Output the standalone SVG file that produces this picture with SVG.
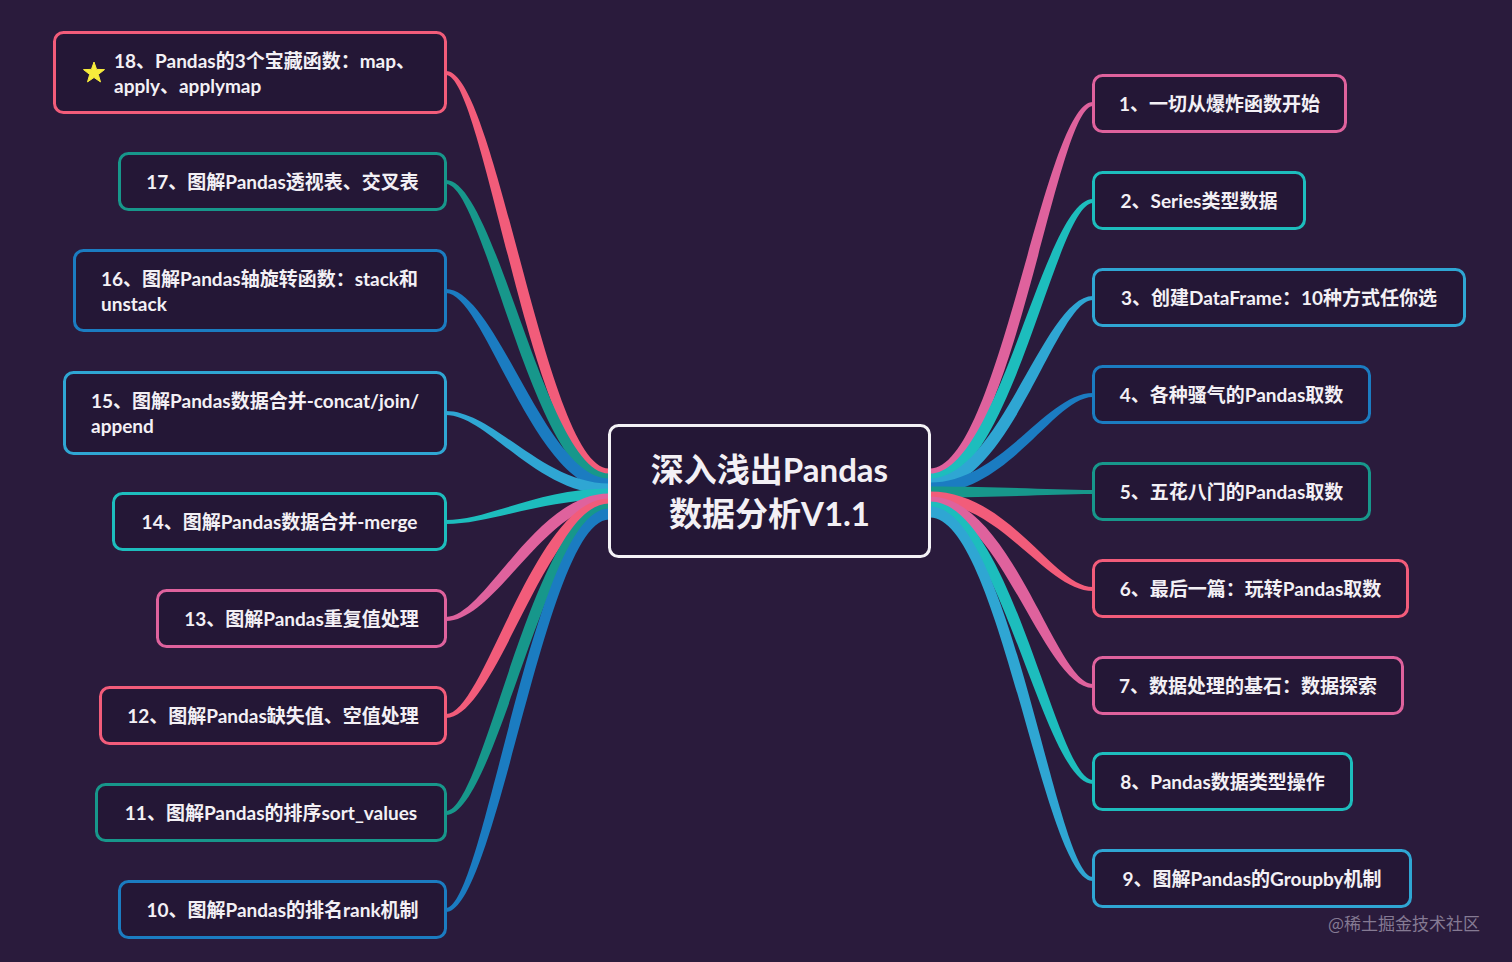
<svg xmlns="http://www.w3.org/2000/svg" width="1512" height="962" viewBox="0 0 1512 962">
<style>
.t{font-family:Lato,"Noto Sans CJK SC",sans-serif;font-weight:700;font-size:19px;fill:#f3f0f5}
.tm{text-anchor:middle}
.box{fill:#241736;stroke-width:3}
.coral{fill:#f25c7a}.teal{fill:#17978b}.blue{fill:#1b7cc1}.lblue{fill:#2fa6d3}.cyan{fill:#1dbdbd}.mauve{fill:#df629d}
.scoral{stroke:#f25c7a}.steal{stroke:#17978b}.sblue{stroke:#1b7cc1}.slblue{stroke:#2fa6d3}.scyan{stroke:#1dbdbd}.smauve{stroke:#df629d}
</style>
<rect x="0" y="0" width="1512" height="962" fill="#2a1b3c"/>
<g id="connectors">
<path class="coral" d="M609,468.5 C546,468.5 496,71 446,71 L446,75 C484,75 534,479.5 609,479.5 Z"/>
<path class="teal" d="M609,473.5 C546,473.5 496,180 446,180 L446,184 C484,184 534,484.5 609,484.5 Z"/>
<path class="blue" d="M609,478.5 C546,478.5 496,289 446,289 L446,293 C484,293 534,489.5 609,489.5 Z"/>
<path class="lblue" d="M609,483.5 C543,483.5 493,411 446,411 L446,415 C487,415 537,494.5 609,494.5 Z"/>
<path class="cyan" d="M609,488.5 C539,488.5 489,520 446,520 L446,524 C491,524 541,499.5 609,499.5 Z"/>
<path class="mauve" d="M609,493.5 C535,493.5 485,617 446,617 L446,621 C495,621 545,504.5 609,504.5 Z"/>
<path class="coral" d="M609,498.5 C534,498.5 484,714 446,714 L446,718 C496,718 546,509.5 609,509.5 Z"/>
<path class="teal" d="M609,503.5 C534,503.5 484,811 446,811 L446,815 C496,815 546,514.5 609,514.5 Z"/>
<path class="blue" d="M609,508.5 C534,508.5 484,908 446,908 L446,912 C496,912 546,519.5 609,519.5 Z"/>
<path class="mauve" d="M930,468.5 C999,468.5 1044,102 1093,102 L1093,106 C1056,106 1011,479.5 930,479.5 Z"/>
<path class="cyan" d="M930,473.5 C999,473.5 1044,199 1093,199 L1093,203 C1056,203 1011,484.5 930,484.5 Z"/>
<path class="lblue" d="M930,478.5 C999,478.5 1044,296 1093,296 L1093,300 C1056,300 1011,489.5 930,489.5 Z"/>
<path class="blue" d="M930,482.5 C1001,482.5 1046,393 1093,393 L1093,397 C1054,397 1009,493.5 930,493.5 Z"/>
<path class="teal" d="M930,486.5 C1005,486.5 1050,490 1093,490 L1093,494 C1050,494 1005,497.5 930,497.5 Z"/>
<path class="coral" d="M930,491.5 C1009,491.5 1054,587 1093,587 L1093,591 C1046,591 1001,502.5 930,502.5 Z"/>
<path class="mauve" d="M930,496.5 C1011,496.5 1056,684 1093,684 L1093,688 C1044,688 999,507.5 930,507.5 Z"/>
<path class="cyan" d="M930,501.5 C1011,501.5 1056,780 1093,780 L1093,784 C1044,784 999,512.5 930,512.5 Z"/>
<path class="lblue" d="M930,506.5 C1011,506.5 1056,877 1093,877 L1093,881 C1044,881 999,517.5 930,517.5 Z"/>
</g>
<g id="center">
<rect x="609.5" y="425.5" width="320" height="131" rx="9" fill="#241736" stroke="#f4f2f6" stroke-width="3"/>
<text class="t tm" x="769.5" y="482" style="font-size:33px">深入浅出Pandas</text>
<text class="t tm" x="769.5" y="526" style="font-size:33px">数据分析V1.1</text>
</g>
<g id="n18">
<rect class="box scoral" x="54.5" y="32.5" width="391" height="80" rx="9"/>
<polygon points="94,62 96.6,69.4 104.5,69.6 98.3,74.4 100.5,81.9 94,77.5 87.5,81.9 89.7,74.4 83.5,69.6 91.4,69.4" fill="#f7ec3c" stroke="#f7ec3c" stroke-width="1" stroke-linejoin="round"/>
<text class="t" x="114" y="68">18、Pandas的3个宝藏函数：map、</text>
<text class="t" x="114" y="93">apply、applymap</text>
</g>
<g id="n17">
<rect class="box steal" x="119.5" y="153.5" width="326" height="56" rx="9"/>
<text class="t tm" x="282.5" y="188.5">17、图解Pandas透视表、交叉表</text>
</g>
<g id="n16">
<rect class="box sblue" x="74.5" y="250.5" width="371" height="80" rx="9"/>
<text class="t" x="101" y="286">16、图解Pandas轴旋转函数：stack和</text>
<text class="t" x="101" y="311">unstack</text>
</g>
<g id="n15">
<rect class="box slblue" x="64.5" y="372.5" width="381" height="81" rx="9"/>
<text class="t" x="91" y="408">15、图解Pandas数据合并-concat/join/</text>
<text class="t" x="91" y="433">append</text>
</g>
<g id="n14">
<rect class="box scyan" x="113.5" y="493.5" width="332" height="56" rx="9"/>
<text class="t tm" x="279.5" y="528.5">14、图解Pandas数据合并-merge</text>
</g>
<g id="n13">
<rect class="box smauve" x="157.5" y="590.5" width="288" height="56" rx="9"/>
<text class="t tm" x="301.5" y="625.5">13、图解Pandas重复值处理</text>
</g>
<g id="n12">
<rect class="box scoral" x="100.5" y="687.5" width="345" height="56" rx="9"/>
<text class="t tm" x="273" y="722.5">12、图解Pandas缺失值、空值处理</text>
</g>
<g id="n11">
<rect class="box steal" x="96.5" y="784.5" width="349" height="56" rx="9"/>
<text class="t tm" x="271" y="819.5">11、图解Pandas的排序sort_values</text>
</g>
<g id="n10">
<rect class="box sblue" x="119.5" y="881.5" width="326" height="56" rx="9"/>
<text class="t tm" x="282.5" y="916.5">10、图解Pandas的排名rank机制</text>
</g>
<g id="n1">
<rect class="box smauve" x="1093.5" y="75.5" width="252" height="56" rx="9"/>
<text class="t tm" x="1219.5" y="110.5">1、一切从爆炸函数开始</text>
</g>
<g id="n2">
<rect class="box scyan" x="1093.5" y="172.5" width="211" height="56" rx="9"/>
<text class="t tm" x="1199" y="207.5">2、Series类型数据</text>
</g>
<g id="n3">
<rect class="box slblue" x="1093.5" y="269.5" width="371" height="56" rx="9"/>
<text class="t tm" x="1279" y="304.5">3、创建DataFrame：10种方式任你选</text>
</g>
<g id="n4">
<rect class="box sblue" x="1093.5" y="366.5" width="276" height="56" rx="9"/>
<text class="t tm" x="1231.5" y="401.5">4、各种骚气的Pandas取数</text>
</g>
<g id="n5">
<rect class="box steal" x="1093.5" y="463.5" width="276" height="56" rx="9"/>
<text class="t tm" x="1231.5" y="498.5">5、五花八门的Pandas取数</text>
</g>
<g id="n6">
<rect class="box scoral" x="1093.5" y="560.5" width="314" height="56" rx="9"/>
<text class="t tm" x="1250.5" y="595.5">6、最后一篇：玩转Pandas取数</text>
</g>
<g id="n7">
<rect class="box smauve" x="1093.5" y="657.5" width="309" height="56" rx="9"/>
<text class="t tm" x="1248" y="692.5">7、数据处理的基石：数据探索</text>
</g>
<g id="n8">
<rect class="box scyan" x="1093.5" y="753.5" width="258" height="56" rx="9"/>
<text class="t tm" x="1222.5" y="788.5">8、Pandas数据类型操作</text>
</g>
<g id="n9">
<rect class="box slblue" x="1093.5" y="850.5" width="317" height="56" rx="9"/>
<text class="t tm" x="1252" y="885.5">9、图解Pandas的Groupby机制</text>
</g>
<text x="1404" y="930" text-anchor="middle" font-family="'Noto Sans CJK SC',sans-serif" font-size="17" fill="#857a93">@稀土掘金技术社区</text>
</svg>
